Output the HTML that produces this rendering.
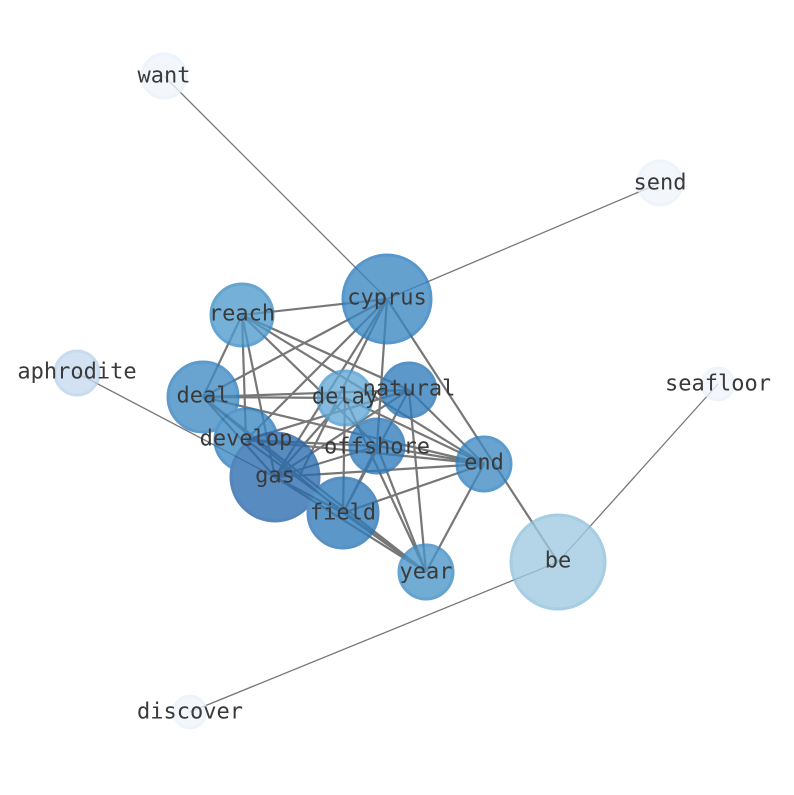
<!DOCTYPE html>
<html><head><meta charset="utf-8"><style>
html,body{margin:0;padding:0;background:#fff;}
svg text{font-family:"DejaVu Sans Mono","Liberation Mono",monospace;font-size:22px;fill:#3a3a3a;text-anchor:middle;dominant-baseline:central;}
</style></head><body>
<svg width="794" height="790" viewBox="0 0 794 790" xmlns="http://www.w3.org/2000/svg">
<g stroke="#777" stroke-width="1.3">
<line x1="164" y1="76" x2="387" y2="299"/>
<line x1="660" y1="183" x2="387" y2="299"/>
<line x1="77" y1="373" x2="275" y2="477"/>
<line x1="718" y1="384" x2="558" y2="562"/>
<line x1="190" y1="712" x2="558" y2="562"/>
</g>
<g stroke="#777" stroke-width="2.2">
<line x1="387" y1="299" x2="242" y2="315"/>
<line x1="387" y1="299" x2="203" y2="397"/>
<line x1="387" y1="299" x2="246" y2="440"/>
<line x1="387" y1="299" x2="275" y2="477"/>
<line x1="387" y1="299" x2="377" y2="446"/>
<line x1="387" y1="299" x2="300" y2="475"/>
<line x1="387" y1="299" x2="558" y2="562"/>
<line x1="242" y1="315" x2="203" y2="397"/>
<line x1="242" y1="315" x2="246" y2="440"/>
<line x1="242" y1="315" x2="275" y2="477"/>
<line x1="242" y1="315" x2="409" y2="390"/>
<line x1="242" y1="315" x2="484" y2="464"/>
<line x1="242" y1="315" x2="377" y2="446"/>
<line x1="203" y1="397" x2="409" y2="390"/>
<line x1="203" y1="397" x2="345" y2="398"/>
<line x1="203" y1="397" x2="484" y2="464"/>
<line x1="203" y1="397" x2="426" y2="572"/>
<line x1="203" y1="397" x2="343" y2="513"/>
<line x1="203" y1="397" x2="275" y2="477"/>
<line x1="345" y1="398" x2="275" y2="477"/>
<line x1="345" y1="398" x2="343" y2="513"/>
<line x1="345" y1="398" x2="426" y2="572"/>
<line x1="345" y1="398" x2="484" y2="464"/>
<line x1="409" y1="390" x2="246" y2="440"/>
<line x1="409" y1="390" x2="275" y2="477"/>
<line x1="409" y1="390" x2="343" y2="513"/>
<line x1="409" y1="390" x2="426" y2="572"/>
<line x1="409" y1="390" x2="484" y2="464"/>
<line x1="246" y1="440" x2="484" y2="464"/>
<line x1="246" y1="440" x2="426" y2="572"/>
<line x1="246" y1="440" x2="377" y2="446"/>
<line x1="377" y1="446" x2="275" y2="477"/>
<line x1="377" y1="446" x2="426" y2="572"/>
<line x1="377" y1="446" x2="343" y2="513"/>
<line x1="377" y1="446" x2="484" y2="464"/>
<line x1="275" y1="477" x2="484" y2="464"/>
<line x1="275" y1="477" x2="426" y2="572"/>
<line x1="275" y1="477" x2="343" y2="513"/>
<line x1="343" y1="513" x2="484" y2="464"/>
<line x1="343" y1="513" x2="426" y2="572"/>
<line x1="484" y1="464" x2="426" y2="572"/>
</g>
<g stroke-width="3" opacity="0.78">
<circle cx="164" cy="76" r="22" fill="#f0f5fc" stroke="#eaf2fb"/>
<circle cx="660" cy="183" r="22" fill="#f0f5fc" stroke="#eaf2fb"/>
<circle cx="718" cy="384" r="16" fill="#f0f5fc" stroke="#eaf2fb"/>
<circle cx="190" cy="712" r="16" fill="#f0f5fc" stroke="#eaf2fb"/>
<circle cx="77" cy="373" r="22" fill="#c6dbef" stroke="#b9d3ec"/>
<circle cx="558" cy="562" r="47" fill="#9ecae1" stroke="#8cbfdc"/>
<circle cx="387" cy="299" r="44" fill="#3a87c2" stroke="#2a7abd"/>
<circle cx="242" cy="315" r="31" fill="#4e9acc" stroke="#3a8dc6"/>
<circle cx="203" cy="397" r="35" fill="#3f8bc4" stroke="#2f7fbe"/>
<circle cx="345" cy="398" r="27" fill="#62a8d6" stroke="#4f9bcf"/>
<circle cx="409" cy="390" r="27" fill="#2f7dbc" stroke="#2a74b6"/>
<circle cx="246" cy="440" r="31" fill="#3b89c3" stroke="#2a7bbd"/>
<circle cx="377" cy="446" r="27" fill="#2f7dbc" stroke="#2a74b6"/>
<circle cx="275" cy="477" r="44" fill="#2a6cb0" stroke="#2563a8"/>
<circle cx="343" cy="513" r="35" fill="#2f7bbb" stroke="#2a72b4"/>
<circle cx="484" cy="464" r="27" fill="#3f8bc4" stroke="#2f80be"/>
<circle cx="426" cy="572" r="27" fill="#4a95ca" stroke="#3a8ac4"/>
</g>
<text x="164" y="76">want</text>
<text x="660" y="183">send</text>
<text x="718" y="384">seafloor</text>
<text x="190" y="712">discover</text>
<text x="77" y="372">aphrodite</text>
<text x="558" y="561">be</text>
<text x="387" y="298">cyprus</text>
<text x="242" y="314">reach</text>
<text x="203" y="396">deal</text>
<text x="345" y="397">delay</text>
<text x="409" y="389">natural</text>
<text x="246" y="439">develop</text>
<text x="377" y="447">offshore</text>
<text x="275" y="476">gas</text>
<text x="343" y="513">field</text>
<text x="484" y="463">end</text>
<text x="426" y="572">year</text>
</svg>
</body></html>
